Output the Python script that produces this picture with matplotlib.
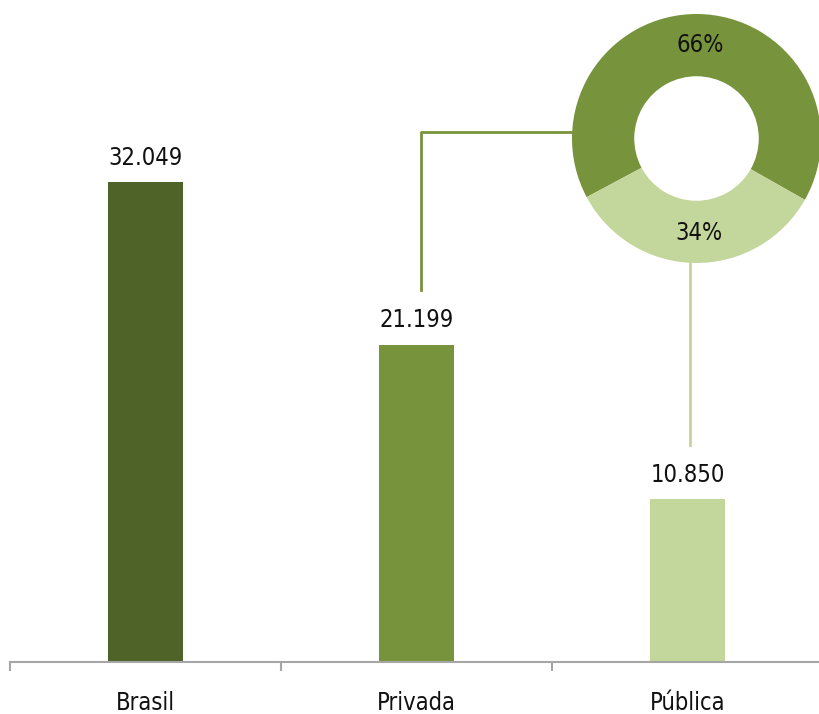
import matplotlib
matplotlib.use("Agg")
import matplotlib.pyplot as plt
from matplotlib.lines import Line2D

# Data
categories = ["Brasil", "Privada", "Pública"]
values = [32049, 21199, 10850]
value_labels = ["32.049", "21.199", "10.850"]
share_labels = ["66%", "34%"]
shares = [66, 34]

bar_colors = ["#4f6228", "#77933c", "#c3d69b"]
share_colors = ["#77933c", "#c3d69b"]

W, H = 819, 714
fig = plt.figure(figsize=(W / 100, H / 100), dpi=100)

FONT = dict(family="DejaVu Sans", stretch="condensed")

# Bar axes
base_px = 661.5            # baseline (px from top)
px_per_unit = 0.014946
left_px, cat_w = 10, 271
ax = fig.add_axes([left_px / W, (H - base_px) / H, 3 * cat_w / W, base_px / H])
x = list(range(len(categories)))
ax.bar(x, values, width=0.28, color=bar_colors, zorder=2)
ax.set_xlim(-0.5, 2.5)
ax.set_ylim(0, base_px / px_per_unit)

for xi, v, lab in zip(x, values, value_labels):
    ax.annotate(lab, (xi, v), xytext=(0, 17.5), textcoords="offset points",
                ha="center", va="center", fontsize=17, color="#111111", **FONT)

for s in ["top", "right", "left"]:
    ax.spines[s].set_visible(False)
ax.spines["bottom"].set_color("#a6a6a6")
ax.spines["bottom"].set_linewidth(1.5)
ax.set_yticks([])
ax.set_xticks(x)
ax.set_xticklabels(categories, fontsize=17, color="#111111", **FONT)
ax.tick_params(axis="x", which="major", length=0, pad=21)
ax.set_xticks([-0.5, 0.5, 1.5, 2.5], minor=True)
ax.tick_params(axis="x", which="minor", length=6.5, width=1.5, color="#a6a6a6")

# Connector lines from the bars to the donut
ax.add_line(Line2D([1.015, 1.015, 1.574], [24856, 35448, 35448],
                   color=share_colors[0], lw=2, clip_on=False, zorder=1))
ax.add_line(Line2D([2.009, 2.009], [14486, 26663],
                   color=share_colors[1], lw=2, clip_on=False, zorder=1))

# Donut
cx, cy, r = 696.5, 138.5, 124.5
pax = fig.add_axes([(cx - r) / W, (H - cy - r) / H, 2 * r / W, 2 * r / H])
wedges, _ = pax.pie(shares, colors=share_colors, startangle=-29.5,
                    radius=1.0, wedgeprops=dict(width=0.5, linewidth=0),
                    labels=None)
pax.set_xlim(-1, 1)
pax.set_ylim(-1, 1)
pax.set_aspect("equal")
pax.axis("off")
pax.text(0.03, 0.75, share_labels[0], ha="center", va="center",
         fontsize=17, color="#111111", **FONT)
pax.text(0.02, -0.76, share_labels[1], ha="center", va="center",
         fontsize=17, color="#111111", **FONT)

fig.savefig("out.png", dpi=100)
